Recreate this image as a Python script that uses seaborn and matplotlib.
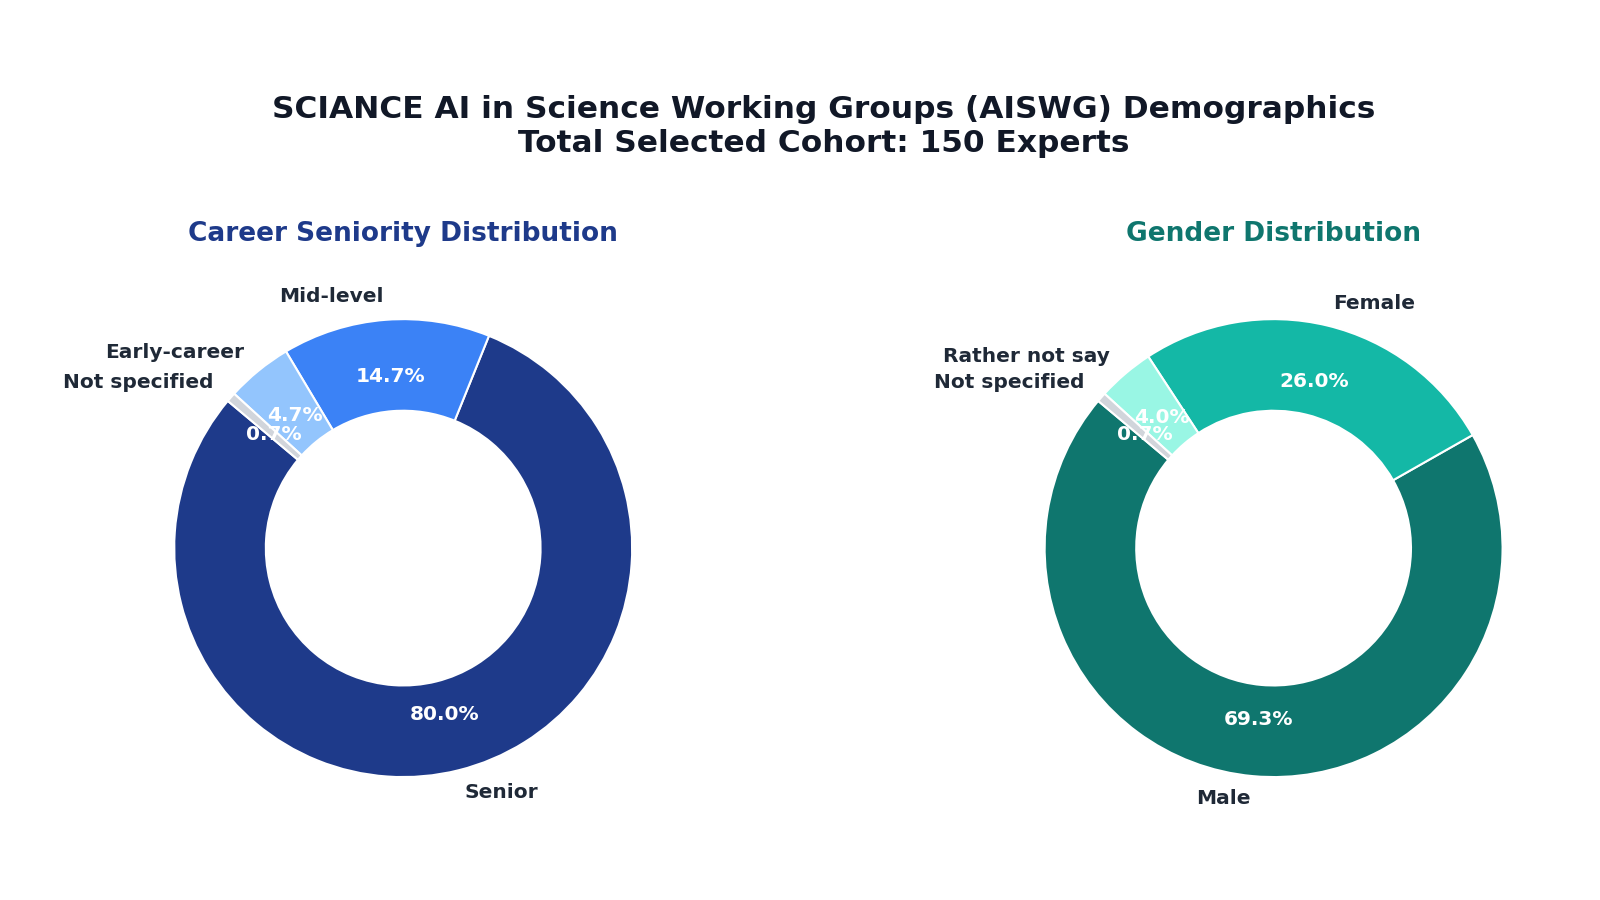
import numpy as np
import matplotlib
matplotlib.use("Agg")
import matplotlib.pyplot as plt
import seaborn as sns

# --- DATA ---
career_labels = ["Senior", "Mid-level", "Early-career", "Not specified"]
career_counts = [120, 22, 7, 1]
career_colors = ["#1e3a8a", "#3b82f6", "#93c5fd", "#d1d5db"]

gender_labels = ["Male", "Female", "Rather not say", "Not specified"]
gender_counts = [104, 39, 6, 1]
gender_colors = ["#0f766e", "#14b8a6", "#99f6e4", "#d1d5db"]

total = sum(career_counts)

sns.set_theme(style="white")
plt.rcParams['font.family'] = ['DejaVu Sans']

fig = plt.figure(figsize=(16, 9), dpi=100)
ax1 = fig.add_axes([0.252 - 0.179, 0.391 - 0.318, 0.358, 0.636])
ax2 = fig.add_axes([0.796 - 0.179, 0.391 - 0.318, 0.358, 0.636])


def donut(ax, counts, labels, colors, title, title_color):
    wedges, texts, autotexts = ax.pie(
        counts,
        labels=labels,
        colors=colors,
        startangle=140,
        autopct='%1.1f%%',
        pctdistance=0.75,
        labeldistance=1.1,
        wedgeprops=dict(width=0.4, edgecolor='white', linewidth=1.5),
        textprops=dict(fontsize=14.5, fontweight='bold', color='#1f2937'),
    )
    for t in autotexts:
        t.set_color('white')
        t.set_fontsize(14.5)
        t.set_fontweight('bold')
    ax.set_aspect('equal')
    ax.set_title(title, fontsize=19, fontweight='bold', color=title_color, pad=15)


donut(ax1, career_counts, career_labels, career_colors,
      "Career Seniority Distribution", "#1e3a8a")
donut(ax2, gender_counts, gender_labels, gender_colors,
      "Gender Distribution", "#0f766e")

fig.suptitle(f"SCIANCE AI in Science Working Groups (AISWG) Demographics\n"
             f"Total Selected Cohort: {total} Experts",
             fontsize=22.5, fontweight='bold', color='#111827', x=0.515, y=0.894)

fig.savefig("out.png", dpi=100, facecolor='white')
